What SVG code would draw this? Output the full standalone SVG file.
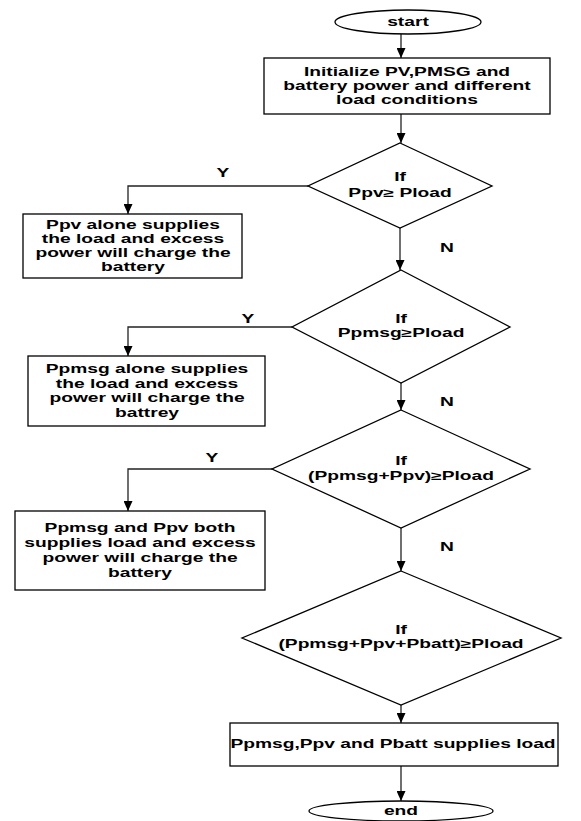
<svg xmlns="http://www.w3.org/2000/svg" width="581" height="821" viewBox="0 0 581 821">
<style>
.s{fill:#fff;stroke:#000;stroke-width:1.3}
.c{fill:none;stroke:#222;stroke-width:1.3}
text{font-family:"Liberation Sans",Arial,sans-serif;font-weight:bold;font-size:12px;text-anchor:middle;fill:#000}
</style>
<defs>
<marker id="ah" markerUnits="userSpaceOnUse" markerWidth="10" markerHeight="9" refX="10" refY="4.5" orient="auto">
<path d="M0,0 L10,4.5 L0,9 z" fill="#000"/>
</marker>
</defs>
<g id="connectors">
<path class="c" d="M401,34 V58" marker-end="url(#ah)"/>
<path class="c" d="M401,114 V143" marker-end="url(#ah)"/>
<path class="c" d="M308,186 H128 V214" marker-end="url(#ah)"/>
<path class="c" d="M400,228 V270" marker-end="url(#ah)"/>
<path class="c" d="M292,327 H128 V356" marker-end="url(#ah)"/>
<path class="c" d="M401,383 V410" marker-end="url(#ah)"/>
<path class="c" d="M272,469 H128 V511" marker-end="url(#ah)"/>
<path class="c" d="M401,528 V571" marker-end="url(#ah)"/>
<path class="c" d="M401,705 V723" marker-end="url(#ah)"/>
<path class="c" d="M401,766 V801" marker-end="url(#ah)"/>
<text transform="translate(223,177) scale(1.6,1)">Y</text>
<text transform="translate(248,323) scale(1.6,1)">Y</text>
<text transform="translate(212,462) scale(1.6,1)">Y</text>
<text transform="translate(447,252) scale(1.6,1)">N</text>
<text transform="translate(447,406) scale(1.6,1)">N</text>
<text transform="translate(447,551) scale(1.6,1)">N</text>
</g>
<g id="start">
<ellipse class="s" cx="408" cy="22" rx="73" ry="12"/>
<text transform="translate(408,26) scale(1.6,1)">start</text>
</g>
<g id="init">
<rect class="s" x="264" y="58" width="286" height="56"/>
<text transform="translate(407,76) scale(1.6,1)">Initialize PV,PMSG and</text>
<text transform="translate(407,90) scale(1.6,1)">battery power and different</text>
<text transform="translate(407,104) scale(1.6,1)">load conditions</text>
</g>
<g id="d1">
<polygon class="s" points="400,143 492,186 400,228 308,186"/>
<text transform="translate(400,181) scale(1.6,1)">If</text>
<text transform="translate(400,197) scale(1.6,1)">Ppv≥ Pload</text>
</g>
<g id="b1">
<rect class="s" x="23" y="214" width="219" height="64"/>
<text transform="translate(133,229) scale(1.6,1)">Ppv alone supplies</text>
<text transform="translate(133,243) scale(1.6,1)">the load and excess</text>
<text transform="translate(133,257) scale(1.6,1)">power will charge the</text>
<text transform="translate(133,271) scale(1.6,1)">battery</text>
</g>
<g id="d2">
<polygon class="s" points="401,270 510,327 401,383 292,327"/>
<text transform="translate(401,323) scale(1.6,1)">If</text>
<text transform="translate(401,337) scale(1.6,1)">Ppmsg≥Pload</text>
</g>
<g id="b2">
<rect class="s" x="28" y="356" width="237" height="70"/>
<text transform="translate(147,373) scale(1.6,1)">Ppmsg alone supplies</text>
<text transform="translate(147,388) scale(1.6,1)">the load and excess</text>
<text transform="translate(147,402) scale(1.6,1)">power will charge the</text>
<text transform="translate(147,417) scale(1.6,1)">battrey</text>
</g>
<g id="d3">
<polygon class="s" points="401,410 530,469 401,528 272,469"/>
<text transform="translate(401,465) scale(1.6,1)">If</text>
<text transform="translate(401,480) scale(1.6,1)">(Ppmsg+Ppv)≥Pload</text>
</g>
<g id="b3">
<rect class="s" x="15" y="511" width="250" height="79"/>
<text transform="translate(140,532) scale(1.6,1)">Ppmsg and Ppv both</text>
<text transform="translate(140,547) scale(1.6,1)">supplies load and excess</text>
<text transform="translate(140,562) scale(1.6,1)">power will charge the</text>
<text transform="translate(140,577) scale(1.6,1)">battery</text>
</g>
<g id="d4">
<polygon class="s" points="401,571 561,638 401,705 242,638"/>
<text transform="translate(401,634) scale(1.6,1)">If</text>
<text transform="translate(401,648) scale(1.6,1)">(Ppmsg+Ppv+Pbatt)≥Pload</text>
</g>
<g id="b5">
<rect class="s" x="230" y="723" width="328" height="43"/>
<text transform="translate(393,748) scale(1.6,1)">Ppmsg,Ppv and Pbatt supplies load</text>
</g>
<g id="end">
<ellipse class="s" cx="401" cy="811" rx="92" ry="10"/>
<text transform="translate(401,815) scale(1.6,1)">end</text>
</g>
</svg>
